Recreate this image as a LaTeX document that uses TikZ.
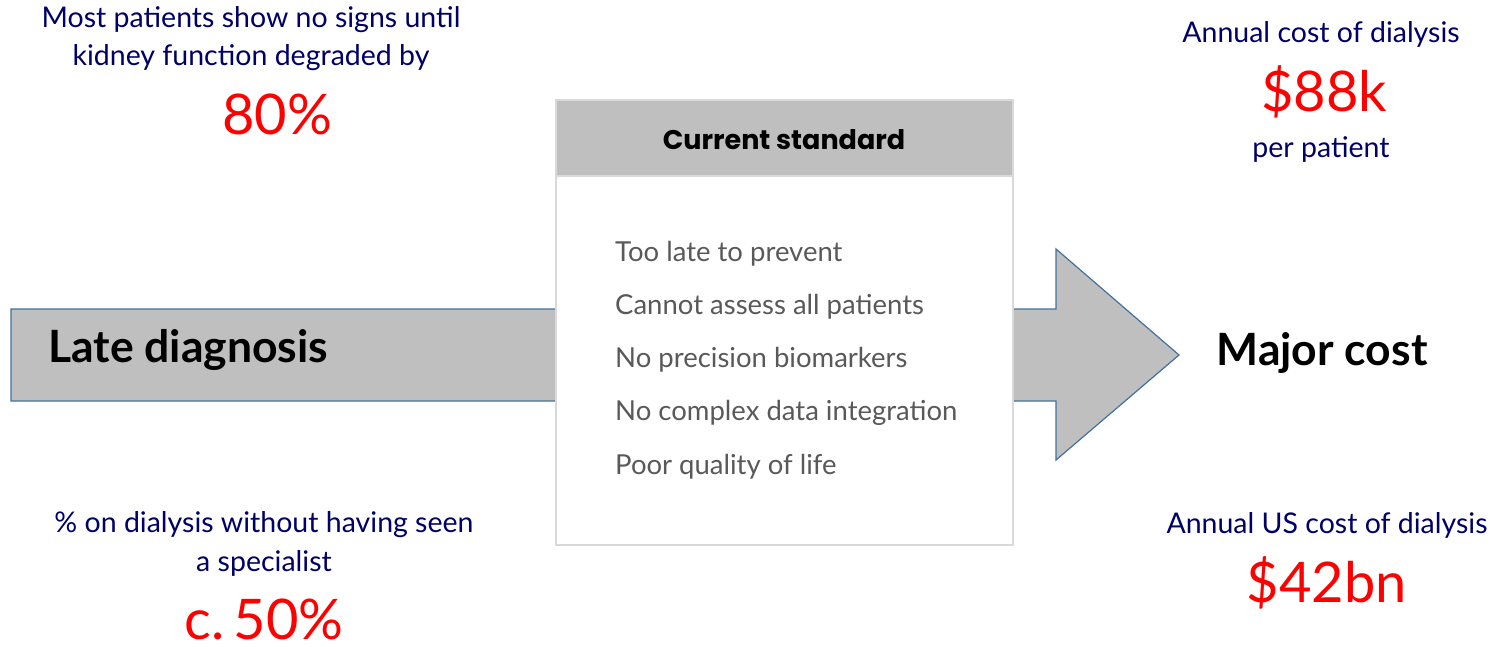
\documentclass[tikz,border=0pt]{standalone}
\usepackage{fontspec}
\setmainfont{Lato}
\newfontfamily\headfont{Poppins}
\usetikzlibrary{calc}
\definecolor{navy}{HTML}{000066}
\definecolor{hot}{HTML}{FF0000}
\definecolor{grey}{HTML}{595959}
\definecolor{shade}{HTML}{BFBFBF}
\definecolor{edge}{HTML}{41719C}
\definecolor{frame}{HTML}{D9D9D9}
\tikzset{
  flow/.style={fill=shade, draw=edge, line width=1.2pt, line join=miter},
  card/.style={fill=white, draw=frame, line width=2.5pt},
  cardhead/.style={fill=shade, draw=frame, line width=2.5pt},
  note/.style={text=navy, align=center, anchor=base, font=\fontsize{28.5}{38.5}\selectfont},
  big/.style={text=hot, anchor=base, inner sep=0pt, font=\fontsize{56}{60}\selectfont},
  item/.style={text=grey, anchor=base west, inner sep=0pt, font=\fontsize{27.5}{30}\selectfont},
  key/.style={text=black, anchor=base, font=\bfseries\fontsize{44.5}{48}\selectfont},
}
\begin{document}
\begin{tikzpicture}[x=1pt,y=-1pt]
  \useasboundingbox (0,0) rectangle (1501,647);
  % big arrow, runs behind the card
  \draw[flow] (11,309) -- (1056,309) -- (1056,249) -- (1179,355)
    -- (1056,460) -- (1056,401) -- (11,401) -- cycle;
  \node[key, anchor=base west, inner sep=0pt] (late) at (48,362) {Late diagnosis};
  \node[key] (major) at (1322,365) {Major cost};
  % card in the middle
  \draw[card] (556,100) rectangle (1013,545);
  \draw[cardhead] (556,100) rectangle (1013,176);
  \node[anchor=base, font=\headfont\bfseries\fontsize{27}{30}\selectfont] (std) at (784,150) {Current standard};
  \foreach \txt [count=\i] in {Too late to prevent, Cannot assess all patients,
      No precision biomarkers, No complex data integration, Poor quality of life}
    \node[item] (item\i) at (615,{261+53.25*(\i-1)}) {\txt};
  % facts round the corners
  \node[note] (signs) at (251,66) {Most patients show no signs until\\kidney function degraded by};
  \node[big] (pct) at (277,135) {80\%};
  \node[note] (annual) at (1321,43) {Annual cost of dialysis};
  \node[big] (perpat) at (1324,112) {\$88k};
  \node[note] (per) at (1321,158) {per patient};
  \node[note] (seen) at (264,571) {\% on dialysis without having seen\\a specialist};
  \node[big] (half) at (264,639) {c.\,50\%};
  \node[note] (us) at (1327,533) {Annual US cost of dialysis};
  \node[big] (total) at (1327,602) {\$42bn};
\end{tikzpicture}
\end{document}
